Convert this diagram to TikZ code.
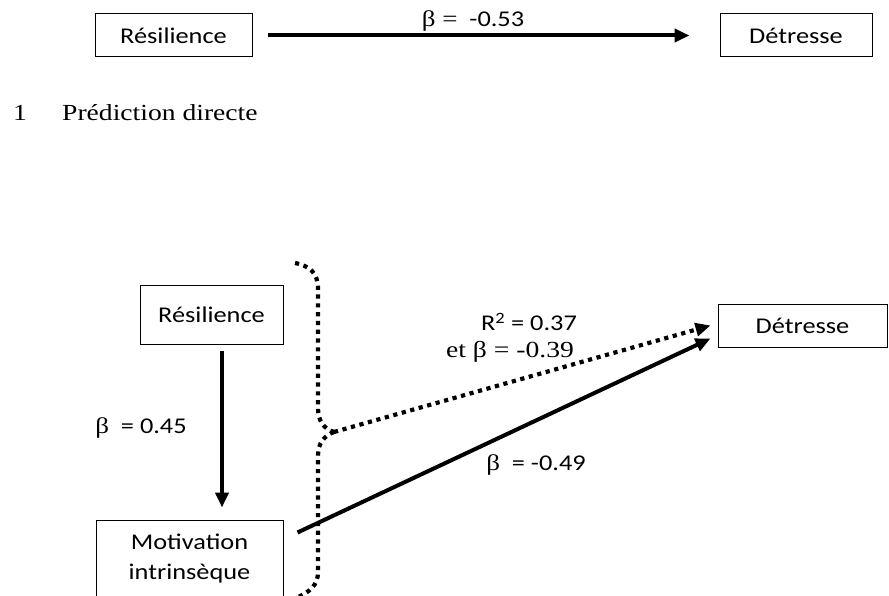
\documentclass[tikz,border=0pt]{standalone}
\usepackage{fontspec}
\setmainfont[FakeStretch=1.2]{Liberation Serif}
\newfontfamily\calib[FakeStretch=1.17]{Carlito}
\usetikzlibrary{arrows.meta}

\begin{document}
\begin{tikzpicture}[x=1pt,y=-1pt,
  box/.style={draw, line width=1pt, inner sep=0pt, align=center,
    font=\calib\fontsize{22.5}{30}\selectfont},
  lbl/.style={inner sep=0pt, font=\calib\fontsize{22.5}{27}\selectfont},
  serif/.style={inner sep=0pt, font=\fontsize{23}{27}\selectfont},
  tip/.style={-{Triangle[length=15pt,width=13pt]}},
  solidarrow/.style={line width=4pt, tip},
  dotline/.style={line width=4.2pt, dash pattern=on 4.2pt off 4.6pt},
]
\useasboundingbox (0,0) rectangle (889,596);

% --- direct prediction ---
\node[box, minimum width=157pt, minimum height=43pt] (R1) at (173.5,35.5) {Résilience};
\node[box, minimum width=152pt, minimum height=43pt] (D1) at (796,35.5) {Détresse};
\draw[solidarrow, shorten <=15pt, shorten >=30pt] (R1.east) -- (D1.west);
\node[lbl] (b1) at (473,21) {{\rmfamily β =}\ \ -0.53};

\node[serif, anchor=base west] (num) at (13,121) {1};
\node[serif, anchor=base west] (cap) at (62,121) {Prédiction directe};

% --- mediation model ---
\node[box, minimum width=143pt, minimum height=59pt] (R2) at (211.5,314.5) {Résilience};
\node[box, minimum width=187pt, minimum height=78pt] (M) at (189.5,559) {Motivation\\intrinsèque};
\node[box, minimum width=169pt, minimum height=43pt] (D2) at (802.5,325.5) {Détresse};

\draw[solidarrow] ([xshift=10.5pt,yshift=-6pt]R2.south) -- ([xshift=32.5pt,yshift=12pt]M.north);
\node[lbl] (b2) at (141,428) {{\rmfamily β}\ \ = 0.45};

% brace grouping the two predictors
\coordinate (brace) at (334,432);
\draw[dotline] (295,263) .. controls (310,266) and (318,273) .. (318,289)
  -- (318,408) .. controls (318,421) and (324,429) .. (brace);
\draw[dotline] (brace) .. controls (324,436) and (318,443) .. (318,456)
  -- (318,572) .. controls (318,585) and (310,592) .. (296,598);

\draw[dotline, tip] (brace) -- ([xshift=-7pt]D2.west);
\draw[solidarrow] ([xshift=14pt,yshift=-13pt]M.north east) -- ([xshift=-7pt,yshift=-13pt]D2.west);

\node[lbl] (r2) at (529,322) {R\textsuperscript{2} = 0.37};
\node[serif] (b3) at (510,352) {et β = -0.39};
\node[lbl] (b4) at (536,465) {{\rmfamily β}\ \ = -0.49};
\end{tikzpicture}
\end{document}
